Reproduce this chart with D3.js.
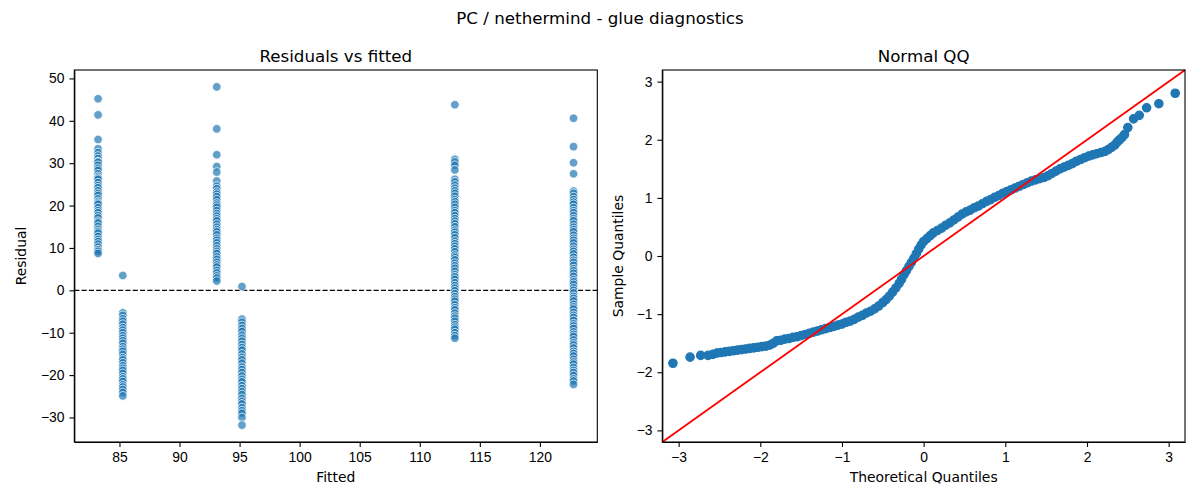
<!DOCTYPE html>
<html>
<head>
<meta charset="utf-8">
<script src="https://cdn.jsdelivr.net/npm/d3@7"></script>
<style>
  body { margin: 0; background: #fff; }
  svg { font-family: "DejaVu Sans", sans-serif; }
  .axis path, .axis line { stroke: #000; stroke-width: 1.1px; }
  .axis text { font-size: 13.9px; fill: #000; }
</style>
</head>
<body>
<div id="chart"></div>
<script>
// fitted value of each vertical column, and the residuals
const fittedLevels = [83.22, 85.28, 93.1, 95.2, 112.92, 122.8];
const resid83 = [45.2, 41.4, 35.6, 33.4, 32.5, 31.7, 31.1, 30.4, 30.2, 29.5, 28.8, 28.3, 27.5, 26.9, 26.5, 26.2,
  25.4, 24.7, 24.2, 23.5, 22.9, 22.4, 21.6, 21.0, 20.6, 20.3, 19.5, 18.8, 18.3, 17.6, 17.1, 16.3, 15.9,
  15.1, 14.4, 13.9, 13.5, 12.7, 12.0, 11.5, 10.9, 10.2, 9.6, 9.2, 8.7];
const resid85 = [3.5, -5.3, -5.9, -6.7, -7.3, -8.0, -8.8, -9.4, -10.0, -10.7, -11.3, -11.9, -12.5, -13.3, -13.9,
  -14.4, -15.1, -15.9, -16.4, -17.1, -17.8, -18.4, -18.9, -19.6, -20.4, -20.9, -21.5, -22.3, -22.8,
  -23.4, -24.1, -24.9];
const resid93 = [48.0, 38.1, 32.0, 29.2, 27.9, 25.8, 24.6, 24.0, 23.2, 22.7, 22.1, 21.4, 20.6, 20.1, 19.6, 18.8,
  18.1, 17.5, 16.9, 16.4, 15.6, 14.9, 14.3, 13.8, 13.1, 12.3, 11.8, 11.2, 10.5, 9.8, 9.2, 8.7, 7.9,
  7.3, 6.6, 6.0, 5.5, 4.7, 4.1, 3.4, 2.9, 2.2];
const resid95 = [0.9, -6.8, -7.5, -8.3, -9.0, -9.7, -10.6, -11.3, -12.0, -12.8, -13.5, -14.1, -15.0, -15.8,
  -16.4, -17.2, -18.1, -18.7, -19.4, -20.2, -21.0, -21.6, -22.5, -23.2, -23.9, -24.6, -25.5, -26.2,
  -26.8, -27.7, -28.4, -29.0, -30.0, -31.8];
const resid113 = [43.8, 30.9, 30.3, 29.5, 28.4, 26.2, 25.6, 24.8, 24.1, 23.5, 22.9, 22.2, 21.4, 20.9, 20.3,
  19.6, 18.8, 18.3, 17.6, 16.9, 16.3, 15.7, 15.0, 14.2, 13.7, 13.1, 12.4, 11.6, 11.0, 10.4, 9.8, 9.1,
  8.3, 7.8, 7.2, 6.4, 5.8, 5.2, 4.5, 3.7, 3.2, 2.6, 1.8, 1.1, 0.5, -0.1, -0.8, -1.5, -2.1, -2.6, -3.4,
  -4.1, -4.6, -5.4, -6.1, -6.6, -7.3, -8.1, -8.7, -9.2, -10.0, -10.7, -11.3];
const resid123 = [40.6, 33.9, 30.1, 27.5, 23.4, 22.9, 22.1, 21.4, 20.8, 20.3, 19.5, 18.8, 18.3, 17.6, 16.9,
  16.4, 15.6, 14.9, 14.3, 13.8, 13.0, 12.3, 11.8, 11.2, 10.4, 9.7, 9.2, 8.6, 7.8, 7.1, 6.6, 5.9, 5.1,
  4.6, 4.0, 3.3, 2.5, 2.0, 1.4, 0.6, 0.0, -0.6, -1.4, -1.9, -2.5, -3.3, -3.9, -4.4, -5.2, -5.9, -6.4,
  -7.1, -7.9, -8.4, -9.0, -9.8, -10.4, -10.9, -11.7, -12.4, -12.9, -13.6, -14.4, -14.9, -15.5, -16.3,
  -16.9, -17.4, -18.2, -18.9, -19.4, -20.1, -20.9, -21.4, -22.2];
const residColumns = [resid83, resid85, resid93, resid95, resid113, resid123];

// normal QQ: theoretical quantile / sample quantile pairs
const qqTheo = [-3.07, -2.86, -2.73, -2.64, -2.58, -2.53, -2.48, -2.43, -2.38, -2.33, -2.28, -2.23, -2.18,
  -2.13, -2.08, -2.03, -1.98, -1.93, -1.88, -1.84, -1.80, -1.75, -1.70, -1.65, -1.60, -1.55, -1.50,
  -1.45, -1.40, -1.35, -1.30, -1.25, -1.20, -1.15, -1.10, -1.05, -1.00, -0.95, -0.90, -0.85, -0.80,
  -0.75, -0.70, -0.65, -0.60, -0.55, -0.50, -0.46, -0.42, -0.38, -0.34, -0.30, -0.27, -0.24, -0.21,
  -0.18, -0.15, -0.12, -0.09, -0.06, -0.03, 0.00, 0.04, 0.08, 0.12, 0.17, 0.22, 0.27, 0.32, 0.37,
  0.42, 0.47, 0.52, 0.57, 0.62, 0.67, 0.72, 0.77, 0.82, 0.87, 0.92, 0.97, 1.02, 1.07, 1.12, 1.17,
  1.22, 1.27, 1.32, 1.37, 1.42, 1.47, 1.52, 1.57, 1.62, 1.67, 1.72, 1.77, 1.82, 1.87, 1.92, 1.97,
  2.02, 2.07, 2.12, 2.17, 2.22, 2.26, 2.30, 2.34, 2.37, 2.40, 2.43, 2.46, 2.50, 2.57, 2.64, 2.73,
  2.88, 3.08];
const qqSample = [-1.845, -1.74, -1.71, -1.71, -1.69, -1.67, -1.66, -1.65, -1.64, -1.63, -1.62, -1.61, -1.60,
  -1.59, -1.58, -1.57, -1.56, -1.55, -1.53, -1.50, -1.46, -1.45, -1.43, -1.42, -1.40, -1.39, -1.37,
  -1.35, -1.33, -1.31, -1.29, -1.27, -1.25, -1.23, -1.21, -1.19, -1.17, -1.14, -1.12, -1.09, -1.05,
  -1.02, -0.98, -0.95, -0.91, -0.86, -0.80, -0.75, -0.69, -0.62, -0.55, -0.47, -0.40, -0.32, -0.25,
  -0.18, -0.11, -0.04, 0.04, 0.12, 0.19, 0.25, 0.30, 0.35, 0.40, 0.44, 0.48, 0.53, 0.57, 0.62,
  0.67, 0.72, 0.76, 0.79, 0.83, 0.86, 0.90, 0.94, 0.97, 1.01, 1.04, 1.08, 1.11, 1.14, 1.17, 1.20,
  1.23, 1.26, 1.29, 1.31, 1.33, 1.35, 1.38, 1.42, 1.46, 1.50, 1.53, 1.56, 1.59, 1.63, 1.66, 1.69,
  1.72, 1.74, 1.76, 1.78, 1.80, 1.83, 1.87, 1.91, 1.96, 2.00, 2.04, 2.09, 2.21, 2.36, 2.42, 2.55,
  2.62, 2.80];

const residTicks = [-30, -20, -10, 0, 10, 20, 30, 40, 50];
const fittedTicks = [85, 90, 95, 100, 105, 110, 115, 120];
const qqTicks = [-3, -2, -1, 0, 1, 2, 3];
const qqLimit = 3.2;

const width = 1200, height = 500;
const plotTop = 70, plotBottom = 442;
const left1 = 74.3, right1 = 597.3, left2 = 662.3, right2 = 1185;

const svg = d3.select('#chart')
              .append('svg')
              .attr('width', width)
              .attr('height', height);

svg.append('text')
   .attr('x', width/2)
   .attr('y', 24)
   .style('text-anchor', 'middle')
   .style('font-size', '16.7px')
   .text('PC / nethermind - glue diagnostics');

// ---------- residuals vs fitted ----------
let points = [];
residColumns.forEach((col, i) => col.forEach(r => points.push({x: fittedLevels[i], y: r})));

function padded(ext){
    let m = (ext[1]-ext[0])*0.05;
    return [ext[0]-m, ext[1]+m];
}

let scaleX = d3.scaleLinear().range([left1, right1]).domain(padded(d3.extent(points, d=>d.x)));
let scaleY = d3.scaleLinear().range([plotBottom, plotTop]).domain(padded(d3.extent(points, d=>d.y)));

let g1 = svg.append('g');

g1.append('g')
  .attr('class', 'axis')
  .attr('transform', 'translate(0,' + plotBottom + ')')
  .call(d3.axisBottom(scaleX).tickValues(fittedTicks).tickSize(4.9).tickPadding(4.9).tickSizeOuter(0));

g1.append('g')
  .attr('class', 'axis')
  .attr('transform', 'translate(' + left1 + ',0)')
  .call(d3.axisLeft(scaleY).tickValues(residTicks).tickSize(4.9).tickPadding(4.9).tickSizeOuter(0));

g1.append('line')
  .attr('x1', left1).attr('x2', right1)
  .attr('y1', scaleY(0)).attr('y2', scaleY(0))
  .style('stroke', '#000')
  .style('stroke-width', 1.1)
  .style('stroke-dasharray', '5.1,2.2');

g1.selectAll('circle.res')
  .data(points)
  .enter()
  .append('circle')
  .attr('class', 'res')
  .attr('cx', d=>scaleX(d.x))
  .attr('cy', d=>scaleY(d.y))
  .attr('r', 4.3)
  .style('fill', '#1f77b4')
  .style('fill-opacity', 0.7)
  .style('stroke', '#fff')
  .style('stroke-width', 0.75);

g1.append('rect')
  .attr('x', left1).attr('y', plotTop)
  .attr('width', right1-left1).attr('height', plotBottom-plotTop)
  .style('fill', 'none')
  .style('stroke', '#000')
  .style('stroke-width', 1.1);

g1.append('text')
  .attr('x', (left1+right1)/2)
  .attr('y', 62)
  .style('text-anchor', 'middle')
  .style('font-size', '16.7px')
  .text('Residuals vs fitted');

g1.append('text')
  .attr('x', (left1+right1)/2)
  .attr('y', 482)
  .style('text-anchor', 'middle')
  .style('font-size', '13.9px')
  .text('Fitted');

g1.append('text')
  .attr('transform', 'translate(26,' + (plotTop+plotBottom)/2 + ') rotate(-90)')
  .style('text-anchor', 'middle')
  .style('font-size', '13.9px')
  .text('Residual');

// ---------- normal QQ ----------
let qq = qqTheo.map((t, i) => ({t: t, s: qqSample[i]}));

let qx = d3.scaleLinear().range([left2, right2]).domain([-qqLimit, qqLimit]);
let qy = d3.scaleLinear().range([plotBottom, plotTop]).domain([-qqLimit, qqLimit]);

let g2 = svg.append('g');

g2.append('g')
  .attr('class', 'axis')
  .attr('transform', 'translate(0,' + plotBottom + ')')
  .call(d3.axisBottom(qx).tickValues(qqTicks).tickFormat(d3.format('d')).tickSize(4.9).tickPadding(4.9).tickSizeOuter(0));

g2.append('g')
  .attr('class', 'axis')
  .attr('transform', 'translate(' + left2 + ',0)')
  .call(d3.axisLeft(qy).tickValues(qqTicks).tickFormat(d3.format('d')).tickSize(4.9).tickPadding(4.9).tickSizeOuter(0));

g2.selectAll('circle.qq')
  .data(qq)
  .enter()
  .append('circle')
  .attr('class', 'qq')
  .attr('cx', d=>qx(d.t))
  .attr('cy', d=>qy(d.s))
  .attr('r', 4.2)
  .style('fill', '#1f77b4')
  .style('stroke', '#1f77b4')
  .style('stroke-width', 1.2);

g2.append('line')
  .attr('x1', qx(-qqLimit)).attr('y1', qy(-qqLimit))
  .attr('x2', qx(qqLimit)).attr('y2', qy(qqLimit))
  .style('stroke', 'red')
  .style('stroke-width', 1.8);

g2.append('rect')
  .attr('x', left2).attr('y', plotTop)
  .attr('width', right2-left2).attr('height', plotBottom-plotTop)
  .style('fill', 'none')
  .style('stroke', '#000')
  .style('stroke-width', 1.1);

g2.append('text')
  .attr('x', (left2+right2)/2)
  .attr('y', 62)
  .style('text-anchor', 'middle')
  .style('font-size', '16.7px')
  .text('Normal QQ');

g2.append('text')
  .attr('x', (left2+right2)/2)
  .attr('y', 482)
  .style('text-anchor', 'middle')
  .style('font-size', '13.9px')
  .text('Theoretical Quantiles');

g2.append('text')
  .attr('transform', 'translate(623,' + (plotTop+plotBottom)/2 + ') rotate(-90)')
  .style('text-anchor', 'middle')
  .style('font-size', '13.9px')
  .text('Sample Quantiles');
</script>
</body>
</html>
